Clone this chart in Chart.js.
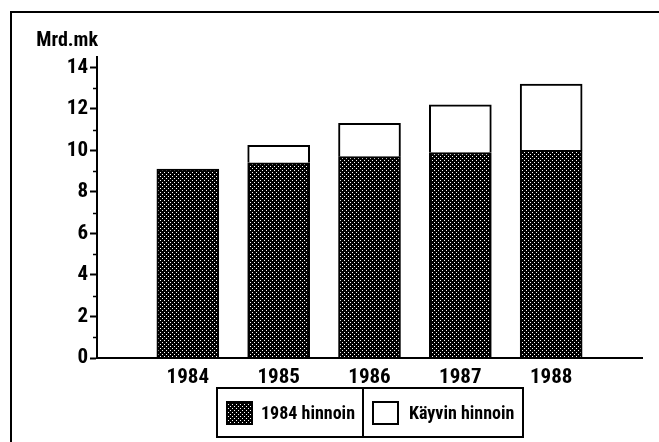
<!DOCTYPE html>
<html>
<head>
<meta charset="utf-8">
<script src="https://cdn.jsdelivr.net/npm/chart.js@4"></script>
<style>
    html, body { margin: 0; padding: 0; background: #fff; }
    #wrap { width: 659px; height: 442px; position: relative; }
</style>
</head>
<body>
<div id="wrap"><canvas id="chart" width="659" height="442"></canvas></div>
<script>
// Data (Mrd.mk)
const years = ['1984', '1985', '1986', '1987', '1988'];
const atPrices1984 = [9.1, 9.4, 9.7, 9.9, 10.0];
const atCurrentPrices = [9.1, 10.25, 11.3, 12.2, 13.2];
const seriesNames = ['1984 hinnoin', 'Käyvin hinnoin'];
const yTicks = [0, 2, 4, 6, 8, 10, 12, 14];

const FONT = '"Roboto Condensed", "DejaVu Sans Condensed", sans-serif';

// dotted dark fill like the print
function makePattern() {
    const c = document.createElement('canvas');
    c.width = 4; c.height = 4;
    const g = c.getContext('2d');
    g.fillStyle = '#000';
    g.fillRect(0, 0, 4, 4);
    g.fillStyle = '#fff';
    g.fillRect(0, 0, 1, 1);
    g.fillRect(2, 2, 1, 1);
    return g.createPattern(c, 'repeat');
}
const dots = makePattern();

// empty slot on each side, like the original axis
const labels = [''].concat(years, ['']);
const lower = [null].concat(atPrices1984, [null]);
const upper = [null].concat(atCurrentPrices.map((v, i) => {
    const d = +(v - atPrices1984[i]).toFixed(2);
    return d > 0 ? d : null;
}), [null]);

const decorations = {
    id: 'decorations',
    afterDraw(chart) {
        const ctx = chart.ctx;
        const y = chart.scales.y;
        ctx.save();
        // outer frame
        ctx.strokeStyle = '#000';
        ctx.lineWidth = 2;
        ctx.strokeRect(11, 12, 700, 500);

        // minor ticks on odd values
        ctx.lineWidth = 1.5;
        ctx.beginPath();
        for (let v = 1; v < 14; v += 2) {
            const py = Math.round(y.getPixelForValue(v)) + 0.5;
            ctx.moveTo(y.right - 4, py);
            ctx.lineTo(y.right, py);
        }
        ctx.stroke();

        // unit label
        ctx.fillStyle = '#000';
        ctx.font = 'bold 20px ' + FONT;
        ctx.textAlign = 'right';
        ctx.textBaseline = 'middle';
        ctx.fillText('Mrd.mk', 98, 41);

        // legend box
        const box = { l: 217, t: 388, r: 523, b: 437, mid: 363 };
        ctx.lineWidth = 2;
        ctx.strokeRect(box.l, box.t, box.r - box.l, box.b - box.t);
        ctx.beginPath();
        ctx.moveTo(box.mid, box.t);
        ctx.lineTo(box.mid, box.b);
        ctx.stroke();

        const items = [
            { x: 227, tx: 261, ds: chart.data.datasets[0] },
            { x: 373, tx: 409, ds: chart.data.datasets[1] }
        ];
        ctx.font = 'bold 18px ' + FONT;
        ctx.textAlign = 'left';
        items.forEach(it => {
            ctx.fillStyle = it.ds.backgroundColor;
            ctx.fillRect(it.x, 402, 25, 22);
            ctx.lineWidth = 2;
            ctx.strokeRect(it.x, 402, 25, 22);
            ctx.fillStyle = '#000';
            ctx.fillText(it.ds.label, it.tx, 414);
        });
        ctx.restore();
    }
};

new Chart(document.getElementById('chart'), {
    type: 'bar',
    data: {
        labels: labels,
        datasets: [
            {
                label: seriesNames[0],
                data: lower,
                backgroundColor: dots,
                borderColor: '#000',
                borderWidth: 2,
                borderSkipped: 'bottom',
                barThickness: 62
            },
            {
                label: seriesNames[1],
                data: upper,
                backgroundColor: '#fff',
                borderColor: '#000',
                borderWidth: 2,
                borderSkipped: 'bottom',
                barThickness: 62
            }
        ]
    },
    options: {
        responsive: false,
        animation: false,
        events: [],
        layout: { padding: { left: 0, right: 17, top: 57, bottom: 0 } },
        plugins: {
            legend: { display: false },
            tooltip: { enabled: false }
        },
        scales: {
            x: {
                stacked: true,
                offset: false,
                grid: { display: true, drawOnChartArea: false, drawTicks: false },
                border: { color: '#000', width: 2 },
                ticks: {
                    color: '#000',
                    padding: 7,
                    maxRotation: 0,
                    autoSkip: false,
                    font: { family: FONT, size: 21, weight: 'bold' }
                },
                afterFit(scale) { scale.height = 84; }
            },
            y: {
                stacked: true,
                min: 0,
                max: 14.5,
                grid: {
                    display: true,
                    drawOnChartArea: false,
                    tickLength: 7,
                    tickColor: c => yTicks.includes(c.tick.value) ? '#000' : 'rgba(0,0,0,0)',
                    tickWidth: 2
                },
                border: { color: '#000', width: 2 },
                ticks: {
                    stepSize: 1,
                    includeBounds: false,
                    autoSkip: false,
                    color: '#000',
                    padding: 2,
                    font: { family: FONT, size: 21, weight: 'bold' },
                    callback: v => yTicks.includes(v) ? String(v) : ''
                },
                afterFit(scale) { scale.width = 97; }
            }
        }
    },
    plugins: [decorations]
});
</script>
</body>
</html>
